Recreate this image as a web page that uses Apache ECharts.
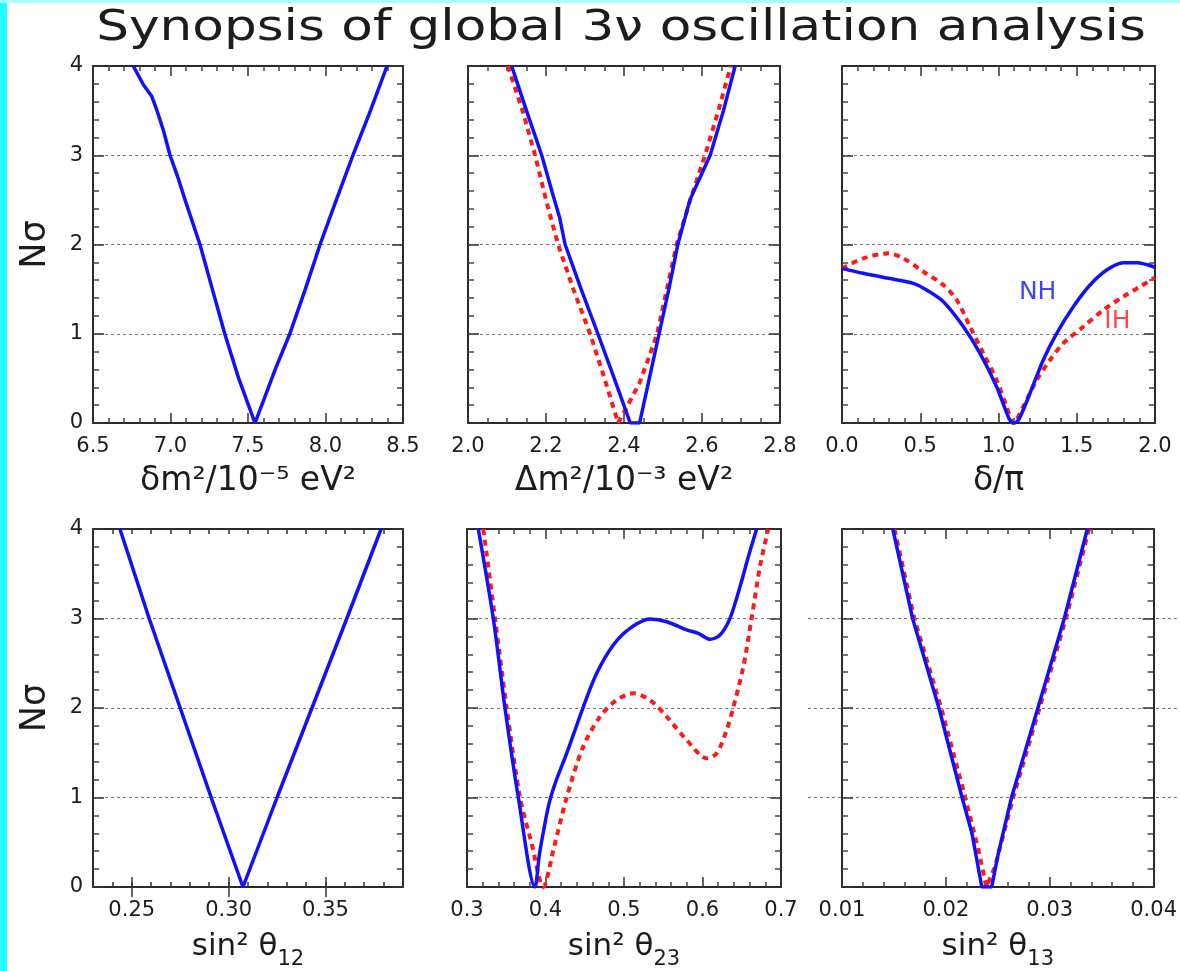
<!DOCTYPE html>
<html>
<head>
<meta charset="utf-8">
<title>Synopsis of global 3ν oscillation analysis</title>
<script src="https://cdn.jsdelivr.net/npm/echarts@6/dist/echarts.min.js"></script>
<style>
html, body { margin: 0; padding: 0; background: #fff; }
#main { width: 1180px; height: 971px; }
</style>
</head>
<body>
<div id="main"></div>
<script>
// values: [x, Nsigma]
var dmSolNH = [[6.76,4],[6.825,3.79],[6.879,3.66],[6.911,3.51],[6.954,3.28],[6.997,3.0],[7.05,2.74],[7.094,2.5],[7.19,2.0],[7.27,1.5],[7.35,1.0],[7.44,0.5],[7.545,0],[7.60,0.25],[7.68,0.62],[7.77,1.0],[7.87,1.5],[7.965,2.0],[8.07,2.5],[8.177,3.0],[8.29,3.5],[8.397,4]];
var dmAtmNH = [[2.112,4],[2.15,3.5],[2.189,3.0],[2.215,2.6],[2.235,2.3],[2.249,2.0],[2.29,1.5],[2.333,1.0],[2.375,0.5],[2.416,0],[2.44,0],[2.465,0.5],[2.49,1.0],[2.515,1.5],[2.538,2.0],[2.569,2.5],[2.621,3.0],[2.655,3.5],[2.685,4]];
var dmAtmIH = [[2.102,4],[2.14,3.5],[2.172,3.0],[2.20,2.5],[2.231,2.0],[2.27,1.5],[2.313,1.0],[2.35,0.5],[2.385,0],[2.41,0.2],[2.44,0.45],[2.465,0.75],[2.485,1.0],[2.51,1.5],[2.535,2.0],[2.57,2.5],[2.608,3.0],[2.642,3.5],[2.674,4]];
var deltaNH = [[0,1.733],[0.136,1.677],[0.296,1.621],[0.456,1.565],[0.541,1.49],[0.648,1.359],[0.776,1.079],[0.882,0.781],[0.988,0.407],[1.07,0.04],[1.10,0],[1.13,0.04],[1.201,0.332],[1.286,0.706],[1.372,1.005],[1.478,1.303],[1.585,1.546],[1.691,1.714],[1.797,1.796],[1.883,1.796],[2.0,1.745]];
var deltaIH = [[0,1.733],[0.136,1.845],[0.296,1.901],[0.392,1.845],[0.52,1.695],[0.648,1.546],[0.733,1.378],[0.818,1.079],[0.903,0.781],[0.988,0.482],[1.052,0.183],[1.095,0],[1.158,0.183],[1.244,0.482],[1.329,0.706],[1.414,0.893],[1.542,1.079],[1.67,1.266],[1.797,1.415],[1.904,1.527],[2.0,1.63]];
var s12NH = [[0.2439,4],[0.259,3],[0.275,2],[0.291,1],[0.3074,0],[0.325,1],[0.343,2],[0.361,3],[0.3787,4]];
var s23NH = [[0.3144,4],[0.3335,3.0],[0.3484,2.0],[0.3654,1.0],[0.3866,0],[0.392,0.35],[0.398,0.65],[0.405,0.95],[0.414,1.2],[0.427,1.494],[0.448,2.008],[0.4652,2.388],[0.4864,2.704],[0.5076,2.89],[0.5331,2.994],[0.5544,2.964],[0.5799,2.872],[0.5947,2.834],[0.6096,2.767],[0.6223,2.816],[0.635,3.002],[0.6478,3.355],[0.6584,3.69],[0.669,4]];
var s23IH = [[0.3208,4],[0.3357,3.0],[0.3506,2.0],[0.3675,1.0],[0.382,0.5],[0.3972,0],[0.41,0.413],[0.427,1.0],[0.448,1.568],[0.4695,1.903],[0.4907,2.089],[0.512,2.164],[0.5331,2.089],[0.5544,1.903],[0.5799,1.642],[0.6054,1.438],[0.6181,1.494],[0.6308,1.754],[0.6393,2.008],[0.652,2.461],[0.6626,3.002],[0.6732,3.579],[0.6838,4]];
var s13NH = [[0.01489,4],[0.0168,3.0],[0.01933,2.0],[0.02156,1.0],[0.02251,0.6],[0.02346,0],[0.02441,0],[0.02505,0.376],[0.02632,1.0],[0.02886,2.0],[0.0314,3.0],[0.03362,4]];
var s13IH = [[0.01505,4],[0.01696,3.0],[0.01955,2.0],[0.02187,1.0],[0.02314,0.413],[0.0239,0],[0.02473,0.227],[0.02648,1.0],[0.02902,2.0],[0.03156,3.0],[0.03378,4]];
var s12Labels = [0.25, 0.30, 0.35];
var nhAt = [1.25, 1.46];
var ihAt = [1.76, 1.14];

var FONT = "'DejaVu Sans', sans-serif";
var INK = '#1c1c1c';
var BLUE = '#1010ff';
var RED = '#ff1a1a';

var panels = [
	{ box: [93, 66, 310, 357], min: 6.5, max: 8.5, step: 0.5, minor: 5, dig: 1, yLab: true, name: 'δm²/10⁻⁵ eV²' },
	{ box: [468, 66, 312, 357], min: 2.0, max: 2.8, step: 0.2, minor: 4, dig: 1, name: 'Δm²/10⁻³ eV²' },
	{ box: [842, 66, 313, 357], min: 0, max: 2, step: 0.5, minor: 5, dig: 1, name: 'δ/π' },
	{ box: [93, 529, 310, 358], min: 0.23, max: 0.39, step: 0.01, minor: 0, dig: 2, yLab: true, sub: '12' },
	{ box: [467, 529, 314, 358], min: 0.3, max: 0.7, step: 0.1, minor: 5, dig: 1, sub: '23' },
	{ box: [842, 529, 315, 358], min: 0.01, max: 0.04, step: 0.01, minor: 5, dig: 2, noSplit: true, sub: '13' }
];

var frame = { show: true, onZero: false, lineStyle: { color: '#2a2a2a', width: 2 } };
var dash = { show: true, showMinLine: false, showMaxLine: false, lineStyle: { color: '#777', width: 1, type: [3, 3] } };

var grids = [], xAxes = [], yAxes = [];
panels.forEach(function(p, i) {
	grids.push({ left: p.box[0], top: p.box[1], width: p.box[2], height: p.box[3] });
	['bottom', 'top'].forEach(function(pos) {
		var ax = {
			type: 'value', gridIndex: i, position: pos, min: p.min, max: p.max, interval: p.step,
			axisLine: frame,
			axisTick: { show: true, inside: true, length: p.minor ? 10 : 5, lineStyle: { color: '#333', width: 1.5 } },
			minorTick: { show: !!p.minor, splitNumber: p.minor || 5, length: 5, lineStyle: { color: '#444', width: 1.5 } },
			splitLine: { show: false },
			axisLabel: {
				show: pos === 'bottom', margin: 13, fontSize: 21, color: INK, fontFamily: FONT,
				showMinLabel: true, showMaxLabel: true,
				formatter: (function(d) { return function(v) { return v.toFixed(d); }; })(p.dig)
			}
		};
		if (!p.minor) ax.axisLabel.customValues = s12Labels;
		if (pos === 'bottom') {
			ax.nameLocation = 'middle';
			if (p.sub) {
				ax.name = '{a|sin² θ}{b|' + p.sub + '}';
				ax.nameGap = 36;
				ax.nameTextStyle = { rich: {
					a: { fontSize: 31, color: INK, fontFamily: FONT },
					b: { fontSize: 21, color: INK, fontFamily: FONT, padding: [26, 0, 0, 0] }
				} };
			} else {
				ax.name = p.name;
				ax.nameGap = 42;
				ax.nameTextStyle = { fontSize: 33, color: INK, fontFamily: FONT };
			}
		}
		xAxes.push(ax);
	});
	['left', 'right'].forEach(function(pos) {
		var ay = {
			type: 'value', gridIndex: i, position: pos, min: 0, max: 4, interval: 1,
			axisLine: frame,
			axisTick: { show: true, inside: true, length: 11, lineStyle: { color: '#333', width: 1.5 } },
			minorTick: { show: true, splitNumber: 5, length: 6, lineStyle: { color: '#444', width: 1.5 } },
			splitLine: (pos === 'left' && !p.noSplit) ? dash : { show: false },
			axisLabel: { show: pos === 'left' && !!p.yLab, margin: 10, fontSize: 21, color: INK, fontFamily: FONT }
		};
		if (pos === 'left' && p.yLab) {
			ay.name = 'Nσ';
			ay.nameLocation = 'middle';
			ay.nameGap = 40;
			ay.nameTextStyle = { fontSize: 35, color: INK, fontFamily: FONT };
		}
		yAxes.push(ay);
	});
});

// long ticks at the labelled values of the sin^2 theta12 panel
['bottom', 'top'].forEach(function(pos) {
	xAxes.push({
		type: 'value', gridIndex: 3, position: pos, min: 0.23, max: 0.39,
		axisLine: { show: false },
		axisTick: { show: true, inside: true, length: 10, customValues: s12Labels, lineStyle: { color: '#333', width: 1.5 } },
		axisLabel: { show: false }, splitLine: { show: false }
	});
});

// dotted levels of the last panel run past its frame
grids.push({ left: 808, top: 529, width: 372, height: 358 });
xAxes.push({ type: 'value', gridIndex: 6, show: false, min: 0, max: 1 });
yAxes.push({ type: 'value', gridIndex: 6, min: 0, max: 4, interval: 1,
	axisLine: { show: false }, axisTick: { show: false }, axisLabel: { show: false }, splitLine: dash });

function curve(idx, data, color, dashed) {
	return { type: 'line', xAxisIndex: idx * 2, yAxisIndex: idx * 2, data: data, showSymbol: false, symbol: 'none',
		lineStyle: { color: color, width: dashed ? 4 : 3.5, type: dashed ? [6, 5] : 'solid' }, z: dashed ? 3 : 4,
		smooth: (idx === 2 || idx === 4) ? 0.3 : false };
}
function tag(text, at, color) {
	return { type: 'scatter', xAxisIndex: 4, yAxisIndex: 4, data: [at], symbolSize: 1, itemStyle: { color: 'transparent' },
		label: { show: true, position: 'inside', formatter: text, color: color, fontSize: 25, fontFamily: FONT }, z: 5 };
}

var myChart = echarts.init(document.getElementById('main'));
var option = {
	animation: false,
	backgroundColor: '#fff',
	graphic: [
		{ type: 'rect', shape: { x: 0, y: 0, width: 7, height: 971 }, style: { fill: '#22ffff' } },
		{ type: 'rect', shape: { x: 0, y: 0, width: 1180, height: 3 }, style: { fill: '#a8ffff' } },
		{ type: 'text', x: 621, y: 8, scaleX: 1.23,
			style: { text: 'Synopsis of global 3ν oscillation analysis', font: '42px ' + FONT, fill: INK,
				textAlign: 'center', align: 'center', textVerticalAlign: 'top', verticalAlign: 'top' } }
	],
	grid: grids,
	xAxis: xAxes,
	yAxis: yAxes,
	series: [
		curve(0, dmSolNH, BLUE),
		curve(1, dmAtmIH, RED, true), curve(1, dmAtmNH, BLUE),
		curve(2, deltaIH, RED, true), curve(2, deltaNH, BLUE),
		curve(3, s12NH, BLUE),
		curve(4, s23IH, RED, true), curve(4, s23NH, BLUE),
		curve(5, s13IH, RED, true), curve(5, s13NH, BLUE),
		tag('NH', nhAt, BLUE), tag('IH', ihAt, RED)
	]
};
myChart.setOption(option);
</script>
</body>
</html>
